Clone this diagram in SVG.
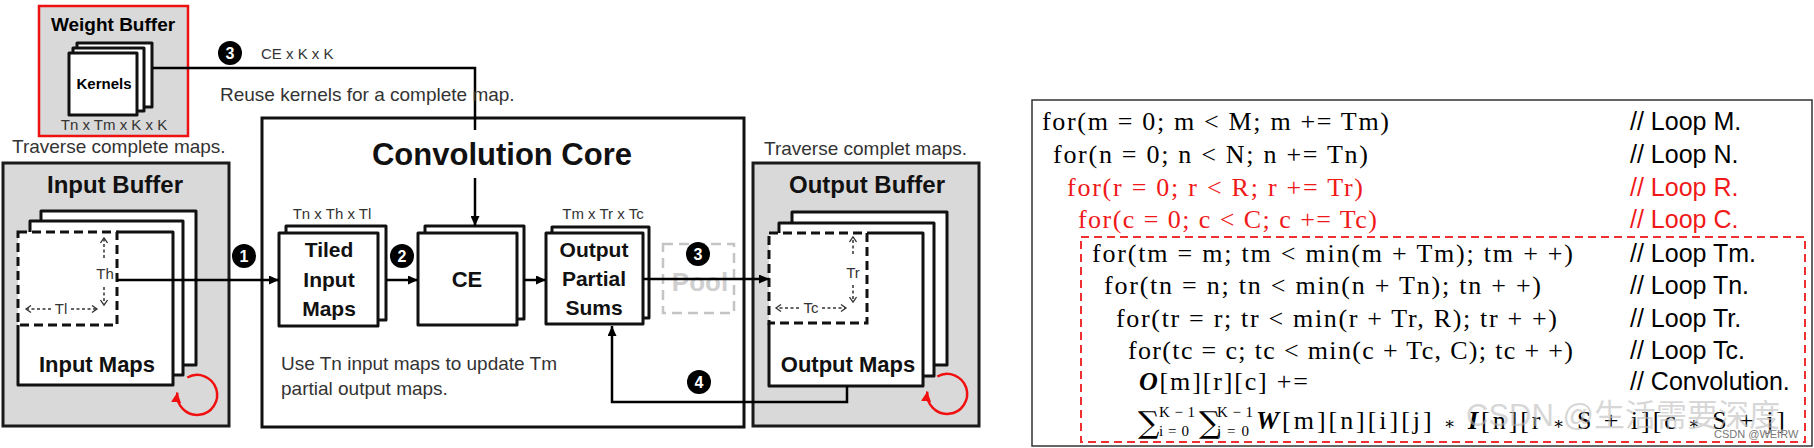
<svg xmlns="http://www.w3.org/2000/svg" width="1814" height="448" viewBox="0 0 1814 448">
<defs>
<style>
.sans{font-family:"Liberation Sans",Arial,sans-serif}
.b{font-weight:bold}
.mid{text-anchor:middle}
.buf{fill:#d9d9d9;stroke:#1a1a1a;stroke-width:3}
.lay{fill:#fff;stroke:#111;stroke-width:3;stroke-linejoin:round}
.dash{fill:none;stroke:#111;stroke-width:3;stroke-dasharray:9 5}
.edge{fill:none;stroke:#111;stroke-width:3;stroke-linejoin:round}
.wire{fill:none;stroke:#000;stroke-width:2.5}
.dot{fill:none;stroke:#333;stroke-width:1.5;stroke-dasharray:3 2.5}
.loop{fill:none;stroke:#f01010;stroke-width:2.5}
.num circle{fill:#000}
.num text{fill:#fff;font-family:"Liberation Sans",Arial,sans-serif;font-weight:bold;font-size:16px;text-anchor:middle}
.code{font-family:"Liberation Serif","Times New Roman",serif;font-size:26px;fill:#000}
.sig{font-family:"DejaVu Serif",serif;font-size:30px;fill:#000}
.lim{font-family:"Liberation Serif","Times New Roman",serif;font-size:15px;fill:#000}
.op{font-family:"DejaVu Serif",serif;font-size:17px}
.cmt{font-family:"Liberation Sans",Arial,sans-serif;font-size:25px;fill:#000}
.red{fill:#f01818}
.small{font-size:15px;fill:#333}
.note{font-size:19px;fill:#333}
</style>
<marker id="arr" markerWidth="10" markerHeight="9" refX="10" refY="4.5" orient="auto" markerUnits="userSpaceOnUse"><path d="M0,0 L10,4.5 L0,9 z" fill="#000"/></marker>
<marker id="rarr" markerWidth="10" markerHeight="10" refX="10" refY="5" orient="auto" markerUnits="userSpaceOnUse"><path d="M0,0 L10,5 L0,10 z" fill="#f01010"/></marker>
<marker id="chev" markerWidth="8" markerHeight="8" refX="6" refY="4" orient="auto" markerUnits="userSpaceOnUse"><path d="M1,0.5 L6,4 L1,7.5" fill="none" stroke="#333" stroke-width="1.3"/></marker>
</defs>
<rect x="0" y="0" width="1814" height="448" fill="#fff"/>

<g id="weight-buffer">
<rect x="39" y="6" width="149" height="130" fill="#d9d9d9" stroke="#ee1111" stroke-width="2.5"/>
<text class="sans b mid" x="113" y="31" font-size="19">Weight Buffer</text>
<rect class="lay" x="77" y="43" width="75" height="64"/>
<rect class="lay" x="73" y="48" width="71" height="63"/>
<rect class="lay" x="69" y="53" width="68" height="62"/>
<text class="sans b mid" x="104" y="89" font-size="15">Kernels</text>
<text class="sans mid small" x="114" y="130">Tn x Tm x K x K</text>
</g>
<text class="sans note" x="12" y="153">Traverse complete maps.</text>

<g id="input-buffer">
<rect class="buf" x="3" y="163" width="226" height="263"/>
<text class="sans b mid" x="115" y="193" font-size="24" fill="#111">Input Buffer</text>
<rect class="lay" x="41" y="211" width="155" height="154"/>
<rect class="lay" x="30" y="221" width="153" height="154"/>
<rect x="18" y="232" width="155" height="153" fill="#fff"/>
<path class="edge" d="M117,232 H173 V385 H18 V325"/>
<rect class="dash" x="18" y="232" width="99" height="93"/>
<line class="dot" x1="104" y1="258" x2="104" y2="238" marker-end="url(#chev)"/>
<line class="dot" x1="104" y1="287" x2="104" y2="305" marker-end="url(#chev)"/>
<text class="sans mid small" x="105" y="279" fill="#444">Th</text>
<line class="dot" x1="51" y1="309" x2="26" y2="309" marker-end="url(#chev)"/>
<line class="dot" x1="71" y1="309" x2="97" y2="309" marker-end="url(#chev)"/>
<text class="sans mid small" x="61" y="314" fill="#444">Tl</text>
<text class="sans b mid" x="97" y="372" font-size="22" fill="#111">Input Maps</text>
<path class="loop" d="M187.3,377.5 A20,20 0 1,1 177.3,392.5" marker-end="url(#rarr)"/>
</g>

<g id="convolution-core">
<rect x="262" y="118" width="482" height="309" fill="#fff" stroke="#111" stroke-width="3"/>
<text class="sans b mid" x="502" y="165" font-size="31" fill="#111">Convolution Core</text>
<text class="sans note" x="281" y="370">Use Tn input maps to update Tm</text>
<text class="sans note" x="281" y="395">partial output maps.</text>
</g>

<g id="tiled-input-maps">
<text class="sans mid small" x="332" y="219">Tn x Th x Tl</text>
<rect class="lay" x="286" y="226" width="100" height="94"/>
<rect class="lay" x="279" y="233" width="99" height="93"/>
<text class="sans b mid" x="329" y="257" font-size="21" fill="#111">Tiled</text>
<text class="sans b mid" x="329" y="287" font-size="21" fill="#111">Input</text>
<text class="sans b mid" x="329" y="316" font-size="21" fill="#111">Maps</text>
</g>

<g id="ce">
<rect class="lay" x="425" y="226" width="99" height="93"/>
<rect class="lay" x="418" y="233" width="99" height="92"/>
<text class="sans b mid" x="467" y="287" font-size="22" fill="#111">CE</text>
</g>

<g id="output-partial-sums">
<text class="sans mid small" x="603" y="219">Tm x Tr x Tc</text>
<rect class="lay" x="552" y="227" width="97" height="91"/>
<rect class="lay" x="546" y="233" width="97" height="91"/>
<text class="sans b mid" x="594" y="257" font-size="21" fill="#111">Output</text>
<text class="sans b mid" x="594" y="286" font-size="21" fill="#111">Partial</text>
<text class="sans b mid" x="594" y="315" font-size="21" fill="#111">Sums</text>
</g>

<g id="pool">
<rect x="663" y="244" width="71" height="69" fill="none" stroke="#c4c4c4" stroke-width="2.5" stroke-dasharray="10 6"/>
<text class="sans b mid" x="700" y="291" font-size="26" fill="#cfcfcf">Pool</text>
</g>

<text class="sans note" x="764" y="155">Traverse complet maps.</text>
<g id="output-buffer">
<rect class="buf" x="753" y="163" width="226" height="263"/>
<text class="sans b mid" x="867" y="193" font-size="24" fill="#111">Output Buffer</text>
<rect class="lay" x="792" y="212" width="155" height="153"/>
<rect class="lay" x="779" y="223" width="155" height="153"/>
<rect x="769" y="233" width="154" height="153" fill="#fff"/>
<path class="edge" d="M867,233 H923 V386 H769 V323"/>
<rect class="dash" x="769" y="233" width="98" height="90"/>
<line class="dot" x1="853" y1="254" x2="853" y2="237" marker-end="url(#chev)"/>
<line class="dot" x1="853" y1="285" x2="853" y2="302" marker-end="url(#chev)"/>
<text class="sans mid small" x="853" y="278" fill="#444">Tr</text>
<line class="dot" x1="799" y1="308" x2="776" y2="308" marker-end="url(#chev)"/>
<line class="dot" x1="822" y1="308" x2="846" y2="308" marker-end="url(#chev)"/>
<text class="sans mid small" x="811" y="313" fill="#444">Tc</text>
<text class="sans b mid" x="848" y="372" font-size="22" fill="#111">Output Maps</text>
<path class="loop" d="M937.3,376.5 A20,20 0 1,1 927.3,391.5" marker-end="url(#rarr)"/>
</g>

<g id="connectors">
<polyline class="wire" points="153,68 475,68 475,130"/>
<line class="wire" x1="475" y1="178" x2="475" y2="226" marker-end="url(#arr)"/>
<line class="wire" x1="117" y1="280" x2="279" y2="280" marker-end="url(#arr)"/>
<line class="wire" x1="386" y1="280" x2="418" y2="280" marker-end="url(#arr)"/>
<line class="wire" x1="524" y1="280" x2="546" y2="280" marker-end="url(#arr)"/>
<line class="wire" x1="643" y1="279" x2="769" y2="279" marker-end="url(#arr)"/>
<polyline class="wire" points="847,386 847,402 612,402 612,326" marker-end="url(#arr)"/>
<g class="num" id="badge1"><circle cx="244" cy="256" r="12"/><text x="244" y="262">1</text></g>
<g class="num" id="badge2"><circle cx="402" cy="256" r="12"/><text x="402" y="262">2</text></g>
<g class="num" id="badge3a"><circle cx="230" cy="53" r="12"/><text x="230" y="59">3</text></g>
<g class="num" id="badge3b"><circle cx="698" cy="254" r="12"/><text x="698" y="260">3</text></g>
<g class="num" id="badge4"><circle cx="699" cy="382" r="12"/><text x="699" y="388">4</text></g>
<text class="sans small" x="261" y="59">CE x K x K</text>
<text class="sans note" x="220" y="101">Reuse kernels for a complete map.</text>
</g>

<g id="loop-code">
<rect x="1032" y="100" width="780" height="346" fill="#fff" stroke="#333" stroke-width="1.5"/>
<rect x="1081" y="237" width="724" height="205" fill="none" stroke="#f03030" stroke-width="2" stroke-dasharray="8 5"/>
<text class="code" x="1042" y="130" textLength="347" lengthAdjust="spacing">for(m = 0; m &lt; M; m += Tm)</text>
<text class="code" x="1053" y="163" textLength="315" lengthAdjust="spacing">for(n = 0; n &lt; N; n += Tn)</text>
<text class="code red" x="1067" y="196" textLength="296" lengthAdjust="spacing">for(r = 0; r &lt; R; r += Tr)</text>
<text class="code red" x="1078" y="228" textLength="299" lengthAdjust="spacing">for(c = 0; c &lt; C; c += Tc)</text>
<text class="code" x="1092" y="262" textLength="481" lengthAdjust="spacing">for(tm = m; tm &lt; min(m + Tm); tm + +)</text>
<text class="code" x="1104" y="294" textLength="437" lengthAdjust="spacing">for(tn = n; tn &lt; min(n + Tn); tn + +)</text>
<text class="code" x="1116" y="327" textLength="441" lengthAdjust="spacing">for(tr = r; tr &lt; min(r + Tr, R); tr + +)</text>
<text class="code" x="1128" y="359" textLength="445" lengthAdjust="spacing">for(tc = c; tc &lt; min(c + Tc, C); tc + +)</text>
<text class="code" x="1139" y="390" textLength="169" lengthAdjust="spacing"><tspan font-weight="bold" font-style="italic">O</tspan>[m][r][c] +=</text>
<text class="sig" x="1138" y="433">∑</text>
<text class="lim" x="1159" y="417" textLength="36" lengthAdjust="spacing">K−1</text>
<text class="lim" x="1159" y="436" textLength="30" lengthAdjust="spacing">i=0</text>
<text class="sig" x="1199" y="433">∑</text>
<text class="lim" x="1217" y="417" textLength="36" lengthAdjust="spacing">K−1</text>
<text class="lim" x="1217" y="436" textLength="32" lengthAdjust="spacing">j=0</text>
<text class="code" x="1256" y="429" textLength="529" lengthAdjust="spacing"><tspan font-weight="bold" font-style="italic">W</tspan>[m][n][i][j] <tspan class="op">∗</tspan> <tspan font-weight="bold" font-style="italic">I</tspan>[n][r <tspan class="op">∗</tspan> S + i][c <tspan class="op">∗</tspan> S + j]</text>
<text class="cmt" x="1630" y="130">// Loop M.</text>
<text class="cmt" x="1630" y="163">// Loop N.</text>
<text class="cmt red" x="1630" y="196">// Loop R.</text>
<text class="cmt red" x="1630" y="228">// Loop C.</text>
<text class="cmt" x="1630" y="262">// Loop Tm.</text>
<text class="cmt" x="1630" y="294">// Loop Tn.</text>
<text class="cmt" x="1630" y="327">// Loop Tr.</text>
<text class="cmt" x="1630" y="359">// Loop Tc.</text>
<text class="cmt" x="1630" y="390">// Convolution.</text>
</g>

<g id="watermark">
<text x="1466" y="426" font-family="'Liberation Sans','Noto Sans CJK SC',sans-serif" font-size="31" fill="#bdbdbd" fill-opacity="0.6">CSDN @生活需要深度</text>
<text x="1714" y="438" font-family="'Liberation Sans',sans-serif" font-size="11" fill="#777" stroke="#fff" stroke-width="0.6" paint-order="stroke">CSDN @WEIRW</text>
</g>
</svg>
